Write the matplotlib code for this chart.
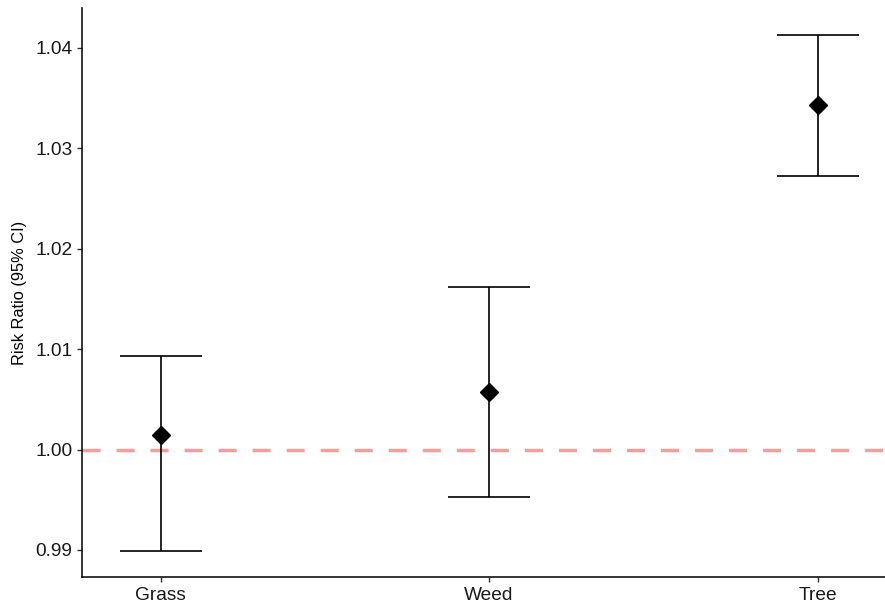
import matplotlib
matplotlib.use("Agg")
import matplotlib.pyplot as plt

# allergen categories and risk ratios with 95% CI
allergens = ["Grass", "Weed", "Tree"]
rr = [1.0015, 1.0057, 1.0343]
ci_low = [0.9899, 0.9953, 1.0272]
ci_high = [1.0093, 1.0162, 1.0413]
y_ticks = [0.99, 1.00, 1.01, 1.02, 1.03, 1.04]

plt.rcParams["font.family"] = ["Liberation Sans", "DejaVu Sans"]

fig = plt.figure(figsize=(8.85, 6.04), dpi=100)
ax = fig.add_axes([82 / 885, 27 / 604, 803 / 885, 569 / 604])

x = list(range(1, len(allergens) + 1))
err = [[r - lo for r, lo in zip(rr, ci_low)], [hi - r for r, hi in zip(rr, ci_high)]]

# reference line at RR = 1
ax.axhline(1.0, color="#ff9a9a", lw=2.5, ls=(0, (5.2, 4.6)), zorder=1)

ax.errorbar(x, rr, yerr=err, fmt="none", ecolor="black", elinewidth=1.2,
            capsize=29.5, capthick=1.2, zorder=2)
ax.plot(x, rr, ls="none", marker="D", markersize=9.5, color="black", zorder=3)

ax.set_xlim(0.7607, 3.2055)
ax.set_ylim(0.98731, 1.04398)
ax.set_xticks(x)
ax.set_xticklabels(allergens)
ax.set_yticks(y_ticks)
ax.set_yticklabels([f"{v:.2f}" for v in y_ticks])
ax.set_ylabel("Risk Ratio (95% CI)", fontsize=11.8, color="black", labelpad=6)

for side in ("top", "right"):
    ax.spines[side].set_visible(False)
for side in ("left", "bottom"):
    ax.spines[side].set_linewidth(1.1)
    ax.spines[side].set_color("black")
ax.tick_params(axis="both", length=3.5, width=1.0, color="#333333",
               labelsize=13.8, labelcolor="#1a1a1a", pad=3.5)

fig.savefig("out.png", dpi=100)
